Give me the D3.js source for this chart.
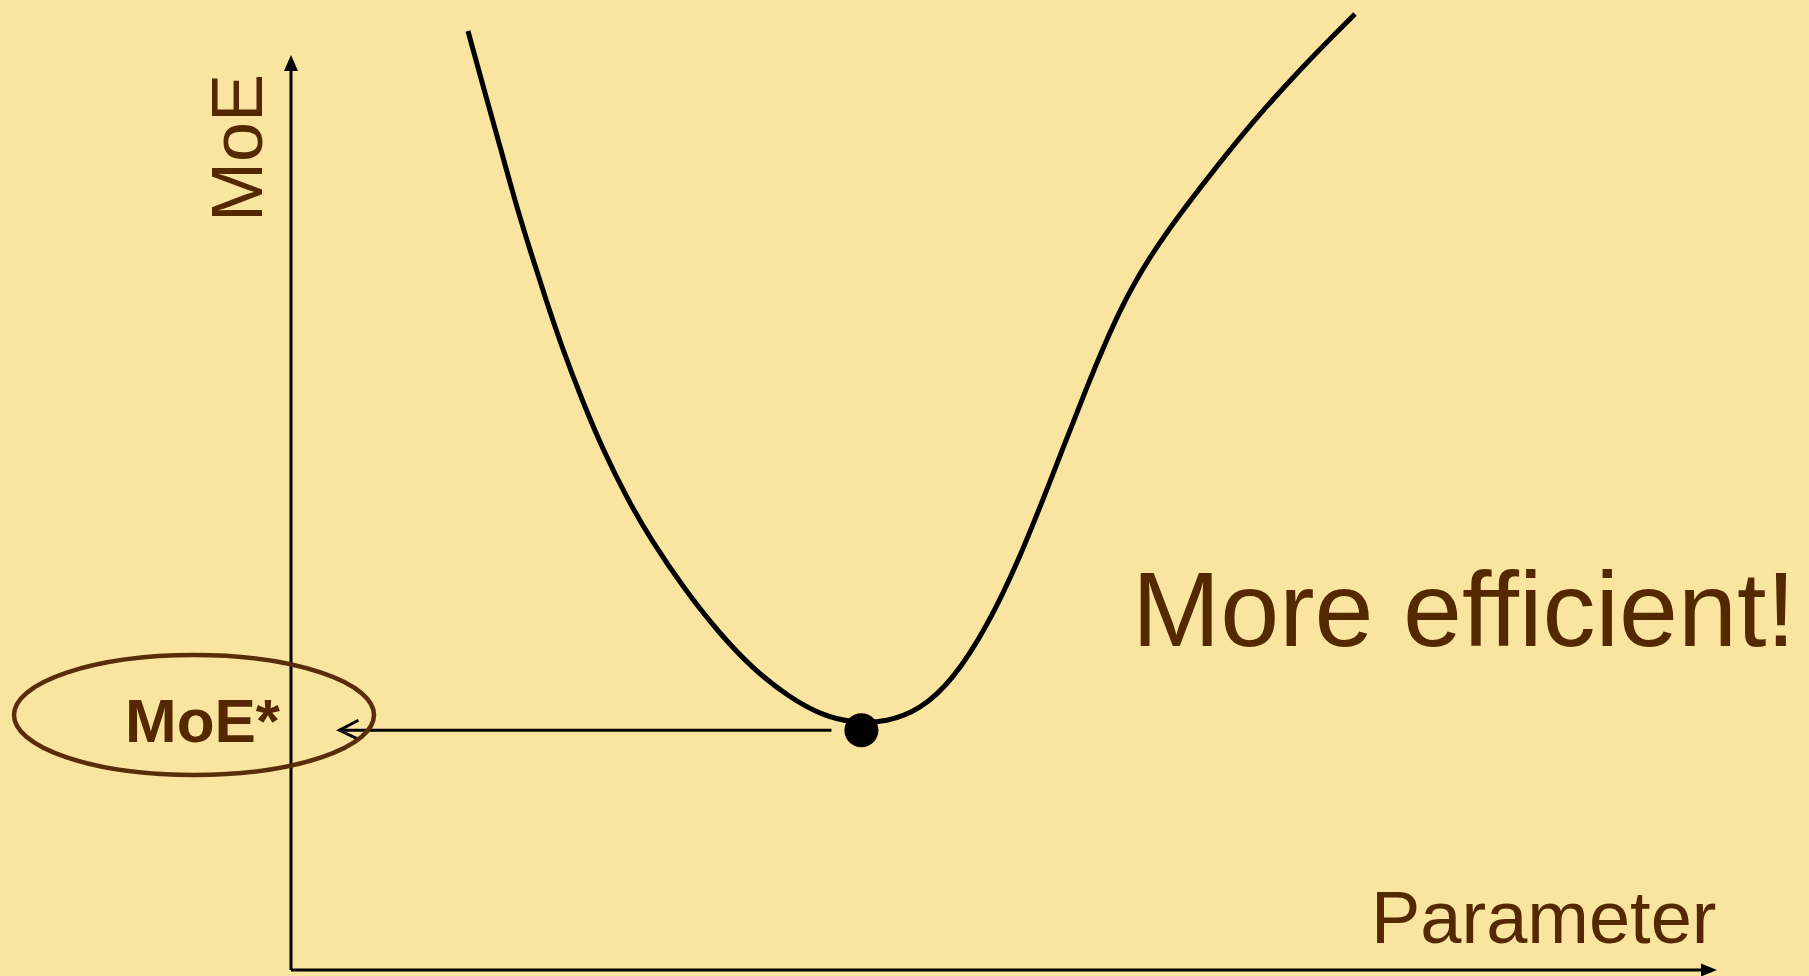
<!DOCTYPE html>
<html>
<head>
<meta charset="utf-8">
<script src="https://cdn.jsdelivr.net/npm/d3@7"></script>
<style>
  html, body { margin: 0; padding: 0; background: #f9e5a0; }
  svg { display: block; }
  text { font-family: "Liberation Sans", Arial, sans-serif; }
</style>
</head>
<body>
<svg id="chart" width="1809" height="976"></svg>
<script>
  // Curve of MoE against the parameter (arbitrary units, 0-100 along each axis)
  var paramValues = [12.41, 13.74, 14.73, 15.71, 16.76, 17.88, 19.07, 20.41, 21.88, 23.63, 25.25,
    27.63, 30.01, 32.47, 34.92, 37.17, 39.41, 41.80, 44.11, 46.42, 48.81, 51.12, 53.44, 55.82,
    58.13, 60.24, 62.34, 64.45, 67.25, 70.76, 74.61];
  var moeValues = [102.62, 95.08, 89.62, 84.01, 78.69, 73.22, 67.76, 62.30, 56.83, 51.37, 46.99,
    41.53, 36.83, 32.79, 29.84, 27.87, 27.00, 27.10, 28.42, 31.69, 37.49, 45.03, 54.21, 63.83,
    72.35, 78.03, 82.62, 86.89, 92.35, 98.47, 104.48];

  // the optimum and where its arrow ends on the MoE axis
  var optimum = { param: 40.0, moe: 26.2 };
  var arrowFrom = 37.9, arrowTo = 3.4;

  var labels = { yAxis: 'MoE', xAxis: 'Parameter', optimum: 'MoE*', note: 'More efficient!' };

  var brown = '#552900';
  var svg = d3.select('#chart');

  var x = d3.scaleLinear().domain([0, 100]).range([291, 1717]);
  var y = d3.scaleLinear().domain([0, 100]).range([970, 55]);

  // Axes with filled arrow heads
  svg.append('line').attr('x1', x(0)).attr('y1', y(0)).attr('x2', x(0)).attr('y2', y(100) + 14)
    .attr('stroke', '#000').attr('stroke-width', 3);
  svg.append('line').attr('x1', x(0)).attr('y1', y(0)).attr('x2', x(100) - 13).attr('y2', y(0))
    .attr('stroke', '#000').attr('stroke-width', 3);
  svg.append('path')
    .attr('d', 'M' + x(0) + ',' + y(100) + 'l-7,16l14,0z').attr('fill', '#000');
  svg.append('path')
    .attr('d', 'M' + x(100) + ',' + y(0) + 'l-16,-6.5l0,13z').attr('fill', '#000');

  // Curve
  var pts = paramValues.map(function (p, i) { return [p, moeValues[i]]; });
  var line = d3.line()
    .x(function (d) { return x(d[0]); })
    .y(function (d) { return y(d[1]); })
    .curve(d3.curveBasis);
  svg.append('path').datum(pts)
    .attr('d', line)
    .attr('fill', 'none').attr('stroke', '#000').attr('stroke-width', 5)
    .attr('stroke-linecap', 'butt');

  // Arrow from the optimum back to the MoE axis
  var ay = y(optimum.moe);
  svg.append('line').attr('x1', x(arrowFrom)).attr('y1', ay).attr('x2', x(arrowTo)).attr('y2', ay)
    .attr('stroke', '#000').attr('stroke-width', 3);
  svg.append('path')
    .attr('d', 'M' + (x(arrowTo) + 19) + ',' + (ay - 10) + 'L' + x(arrowTo) + ',' + ay +
      'L' + (x(arrowTo) + 19) + ',' + (ay + 9))
    .attr('fill', 'none').attr('stroke', '#000').attr('stroke-width', 3);

  // Optimum point
  svg.append('circle').attr('cx', x(optimum.param)).attr('cy', ay).attr('r', 17).attr('fill', '#000');

  // Ellipse round MoE*
  svg.append('ellipse').attr('cx', 194).attr('cy', 715).attr('rx', 180).attr('ry', 60)
    .attr('fill', 'none').attr('stroke', '#5a2d0a').attr('stroke-width', 4.5);
  svg.append('text').attr('x', 125).attr('y', 742)
    .style('font-size', '62px').style('font-weight', 'bold').attr('fill', brown)
    .text(labels.optimum);

  // Axis titles
  svg.append('text').attr('transform', 'translate(262,148) rotate(-90)')
    .attr('text-anchor', 'middle').style('font-size', '72px').attr('fill', brown)
    .text(labels.yAxis);
  svg.append('text').attr('x', 1371).attr('y', 943)
    .style('font-size', '74px').attr('fill', brown)
    .text(labels.xAxis);

  svg.append('text').attr('x', 1132).attr('y', 646)
    .style('font-size', '106px').attr('fill', brown)
    .text(labels.note);
</script>
</body>
</html>
